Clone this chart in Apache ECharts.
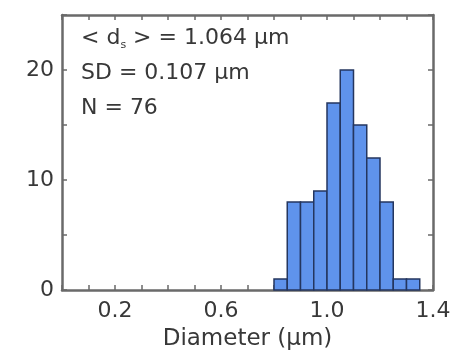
<!DOCTYPE html>
<html>
<head>
<meta charset="utf-8">
<script src="https://cdn.jsdelivr.net/npm/echarts@6/dist/echarts.min.js"></script>
<style>
  html, body { margin: 0; padding: 0; background: #fff; }
  #chart { width: 455px; height: 351px; }
</style>
</head>
<body>
<div id="chart"></div>
<script>
// histogram bins (left edges, µm) and counts
const binStarts = [0.80, 0.85, 0.90, 0.95, 1.00, 1.05, 1.10, 1.15, 1.20, 1.25, 1.30];
const binWidth = 0.05;
const counts = [1, 8, 8, 9, 17, 20, 15, 12, 8, 1, 1];

const xLabelsShown = ['0.2', '0.6', '1.0', '1.4'];
const yLabelsShown = ['0', '10', '20'];

const statLines = [
  '< d{sub|s} > = 1.064 µm',
  'SD = 0.107 µm',
  'N = 76'
];

const FONT = 'DejaVu Sans';
const TEXT = '#383838';
const AXIS = '#6a6a6a';

const chart = echarts.init(document.getElementById('chart'));

const barData = binStarts.map((s, i) => [s, s + binWidth, counts[i]]);

const axisCommon = {
  axisLine: { show: true, onZero: false, lineStyle: { color: AXIS, width: 2.5 } },
  axisTick: { show: true, inside: true, length: 5, lineStyle: { color: AXIS, width: 1.5 } },
  splitLine: { show: false }
};

const option = {
  animation: false,
  grid: { left: 62, right: 22, top: 15, bottom: 61, outerBoundsMode: 'none', containLabel: false },
  xAxis: [
    Object.assign({}, axisCommon, {
      type: 'value', min: 0, max: 1.4, interval: 0.1, position: 'bottom',
      name: 'Diameter (µm)', nameLocation: 'middle', nameGap: 38,
      nameTextStyle: { fontFamily: FONT, fontSize: 23, color: TEXT },
      axisLabel: {
        fontFamily: FONT, fontSize: 22, color: TEXT, margin: 10,
        formatter: v => {
          const s = v.toFixed(1);
          return xLabelsShown.includes(s) ? s : '';
        }
      }
    }),
    Object.assign({}, axisCommon, {
      type: 'value', min: 0, max: 1.4, interval: 0.1, position: 'top',
      axisLabel: { show: false }
    })
  ],
  yAxis: [
    Object.assign({}, axisCommon, {
      type: 'value', min: 0, max: 25, interval: 5, position: 'left',
      axisLabel: {
        fontFamily: FONT, fontSize: 22, color: TEXT, margin: 8,
        formatter: v => yLabelsShown.includes(String(v)) ? String(v) : ''
      }
    }),
    Object.assign({}, axisCommon, {
      type: 'value', min: 0, max: 25, interval: 5, position: 'right',
      axisLabel: { show: false }
    })
  ],
  series: [{
    type: 'custom',
    xAxisIndex: 0,
    yAxisIndex: 0,
    data: barData,
    encode: { x: [0, 1], y: 2 },
    renderItem: (params, api) => {
      const p0 = api.coord([api.value(0), 0]);
      const p1 = api.coord([api.value(1), api.value(2)]);
      return {
        type: 'rect',
        shape: { x: p0[0], y: p1[1], width: p1[0] - p0[0], height: p0[1] - p1[1] },
        style: { fill: '#5f93ec', stroke: '#24365f', lineWidth: 1.5 }
      };
    }
  }],
  graphic: statLines.map((t, i) => ({
    type: 'text',
    x: 81,
    y: 38 + i * 35,
    style: {
      text: t,
      fontFamily: FONT,
      fontSize: 22,
      fill: TEXT,
      verticalAlign: 'middle',
      rich: { sub: { fontFamily: FONT, fontSize: 11, fill: TEXT, padding: [14, 0, 0, 0] } }
    }
  }))
};

chart.setOption(option);
</script>
</body>
</html>
